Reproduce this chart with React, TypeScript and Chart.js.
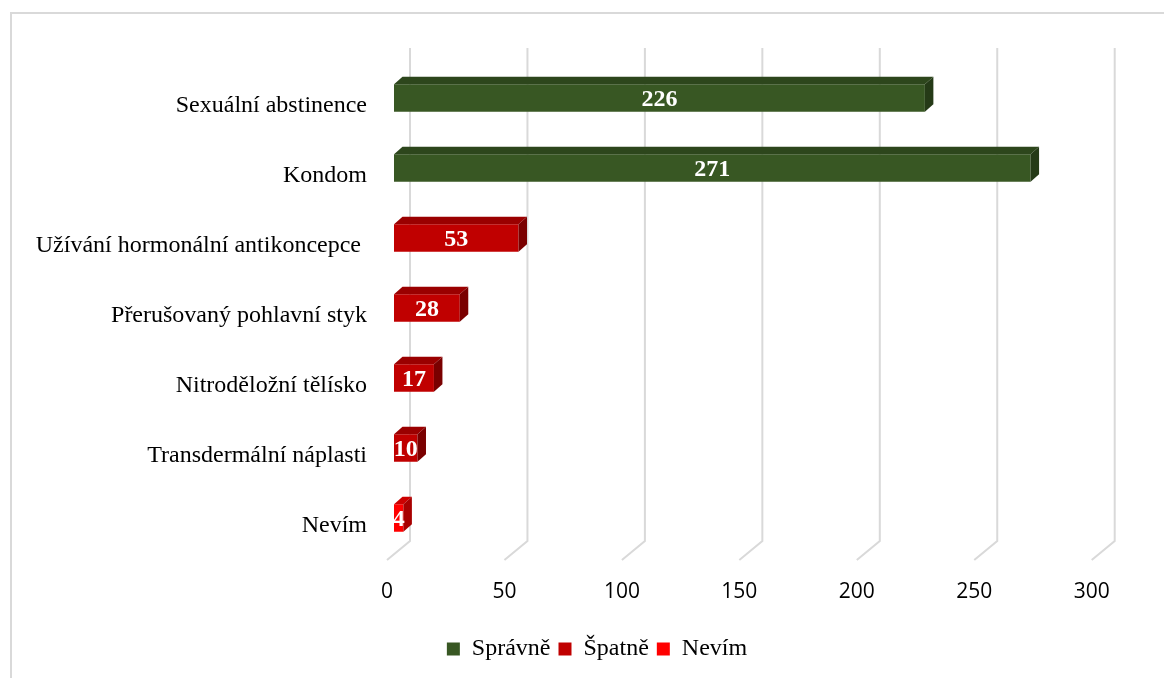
import React, { useEffect, useRef } from "react";
import { Chart, registerables } from "chart.js";

Chart.register(...registerables);

const categories = [
  "Sexuální abstinence",
  "Kondom",
  "Užívání hormonální antikoncepce ",
  "Přerušovaný pohlavní styk",
  "Nitroděložní tělísko",
  "Transdermální náplasti",
  "Nevím",
];
const spravne = [226, 271, null, null, null, null, null];
const spatne = [null, null, 53, 28, 17, 10, null];
const nevim = [null, null, null, null, null, null, 4];
const seriesNames = ["Správně", "Špatně", "Nevím"];
const frontColors = ["#385723", "#C00000", "#FF0000"];
const topColors = ["#2D461C", "#9A0000", "#CC0000"];
const sideColors = ["#253A17", "#7A0000", "#A80000"];

const DX = 8.5;
const DY = 7.5;
const PAD_L = 30;

const gridPlugin = {
  id: "grid3d",
  beforeDatasetsDraw(chart: any) {
    const { ctx, chartArea } = chart;
    const xs = chart.scales.x;
    ctx.save();
    ctx.strokeStyle = "#D9D9D9";
    ctx.lineWidth = 2;
    xs.ticks.forEach((t: any) => {
      const px = xs.getPixelForValue(t.value);
      ctx.beginPath();
      ctx.moveTo(px + 16, chartArea.top - 15);
      ctx.lineTo(px + 16, chartArea.bottom - 12);
      ctx.lineTo(px - 7, chartArea.bottom + 7);
      ctx.stroke();
    });
    ctx.restore();
  },
};

const bar3dPlugin = {
  id: "bar3d",
  afterDatasetsDraw(chart: any) {
    const { ctx } = chart;
    ctx.save();
    chart.data.datasets.forEach((ds: any, di: number) => {
      const meta = chart.getDatasetMeta(di);
      meta.data.forEach((el: any, i: number) => {
        if (ds.data[i] == null) return;
        const p = el.getProps(["x", "y", "base", "height"], true);
        const l = Math.min(p.base, p.x);
        const r = Math.max(p.base, p.x);
        const t = p.y - p.height / 2;
        const b = p.y + p.height / 2;
        ctx.fillStyle = topColors[di];
        ctx.beginPath();
        ctx.moveTo(l, t);
        ctx.lineTo(l + DX, t - DY);
        ctx.lineTo(r + DX, t - DY);
        ctx.lineTo(r, t);
        ctx.closePath();
        ctx.fill();
        ctx.fillStyle = sideColors[di];
        ctx.beginPath();
        ctx.moveTo(r, t);
        ctx.lineTo(r + DX, t - DY);
        ctx.lineTo(r + DX, b - DY);
        ctx.lineTo(r, b);
        ctx.closePath();
        ctx.fill();
        ctx.fillStyle = "#FFFFFF";
        ctx.font = "bold 24px 'Liberation Serif'";
        ctx.textAlign = "center";
        ctx.textBaseline = "middle";
        ctx.fillText(String(ds.data[i]), (l + r) / 2, p.y + 2);
      });
    });
    ctx.restore();
  },
};

export default function App() {
  const ref = useRef<HTMLCanvasElement | null>(null);
  useEffect(() => {
    if (!ref.current) return;
    const seriesData = [spravne, spatne, nevim];
    const chart = new Chart(ref.current, {
      type: "bar",
      data: {
        labels: categories,
        datasets: seriesData.map((d, i) => ({
          label: seriesNames[i],
          data: d,
          backgroundColor: frontColors[i],
          borderWidth: 0,
          grouped: false,
          categoryPercentage: 1,
          barPercentage: 0.396,
        })) as any,
      },
      options: {
        indexAxis: "y",
        responsive: false,
        animation: false,
        devicePixelRatio: 1,
        layout: { padding: { top: 63, right: 0, bottom: 7, left: PAD_L } },
        scales: {
          x: {
            min: 0,
            max: 300,
            grid: { display: false, drawTicks: false },
            border: { display: false },
            ticks: {
              stepSize: 50,
              labelOffset: -7,
              padding: 26,
              color: "#000000",
              font: { family: "'Open Sans'", size: 21 },
            },
            afterFit(s: any) {
              s.height = 76;
              s.paddingLeft = 0;
              s.paddingRight = 0;
            },
          },
          y: {
            grid: { display: false, drawTicks: false },
            border: { display: false },
            ticks: {
              padding: 27,
              labelOffset: 8,
              color: "#000000",
              font: { family: "'Liberation Serif'", size: 24 },
            },
            afterFit(s: any) {
              s.width = 394 - PAD_L;
            },
          },
          rightPad: {
            type: "linear",
            axis: "y",
            position: "right",
            display: true,
            grid: { display: false, drawTicks: false },
            border: { display: false },
            ticks: { display: false },
            afterFit(s: any) {
              s.width = 65.3;
            },
          },
        } as any,
        plugins: {
          legend: {
            position: "bottom",
            labels: {
              boxWidth: 13,
              boxHeight: 13,
              padding: 8,
              color: "#000000",
              font: { family: "'Liberation Serif'", size: 24 },
            },
          },
          tooltip: { enabled: false },
        },
      },
      plugins: [gridPlugin, bar3dPlugin],
    });
    return () => chart.destroy();
  }, []);
  return (
    <>
      <div
        style={{
          position: "fixed",
          left: 10,
          top: 12,
          width: 1200,
          height: 700,
          borderTop: "2px solid #D9D9D9",
          borderLeft: "2px solid #D9D9D9",
          boxSizing: "border-box",
        }}
      />
      <canvas
        ref={ref}
        width={1164}
        height={678}
        style={{ position: "fixed", left: 0, top: 0, width: 1164, height: 678 }}
      />
    </>
  );
}
